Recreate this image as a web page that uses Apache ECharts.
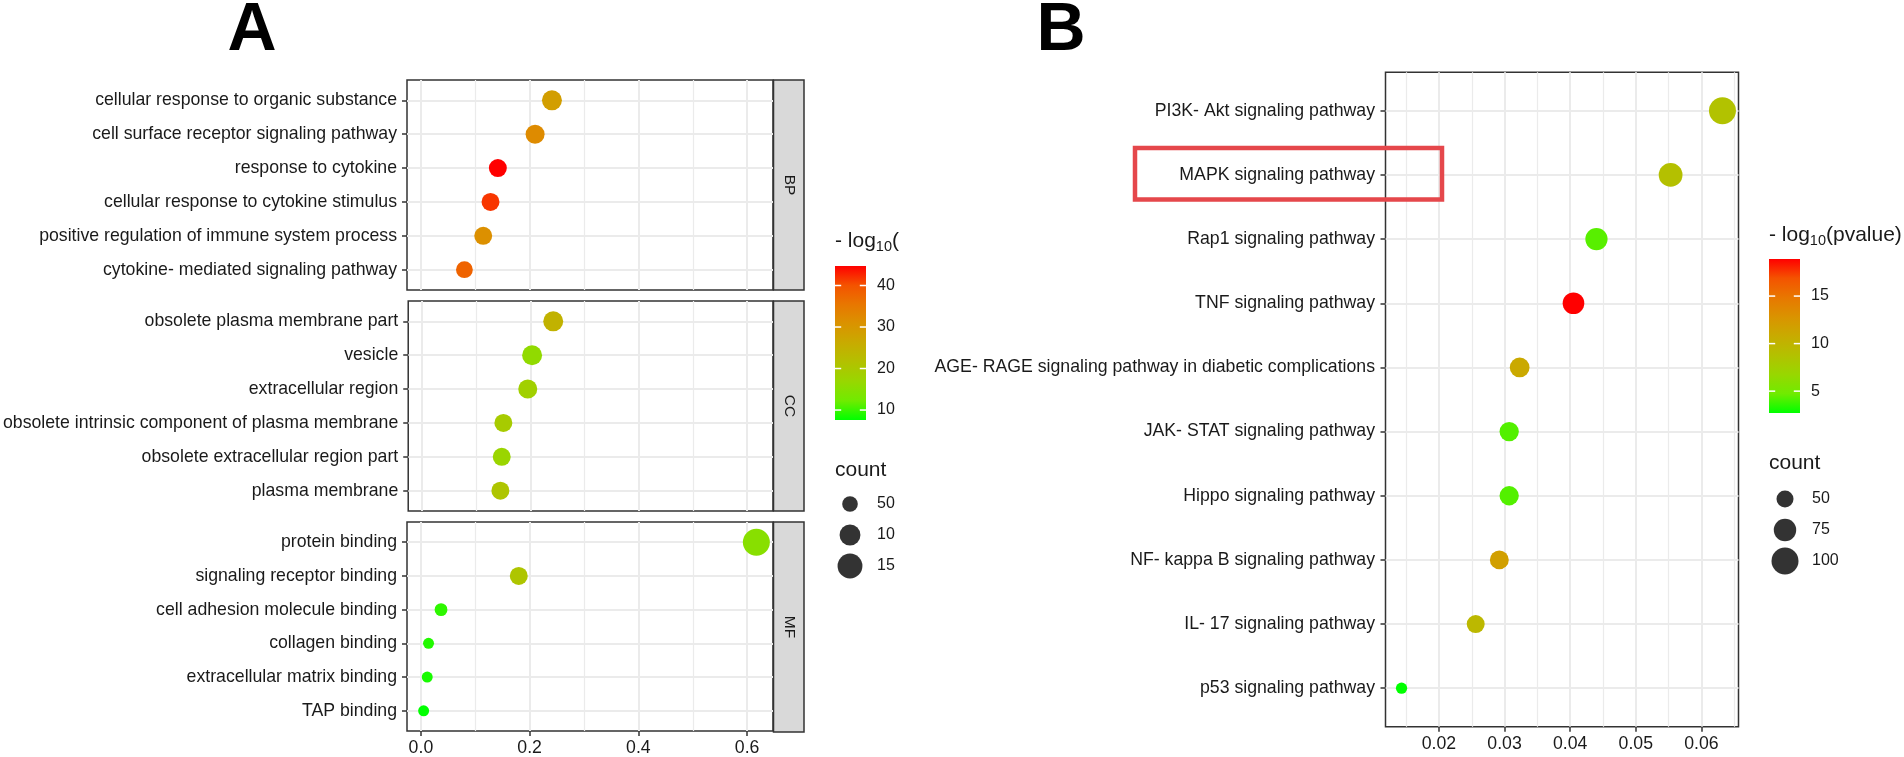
<!DOCTYPE html>
<html>
<head>
<meta charset="utf-8">
<title>GO and KEGG enrichment dot plots</title>
<script src="https://cdn.jsdelivr.net/npm/echarts@6/dist/echarts.min.js"></script>
<style>
    html, body { margin: 0; padding: 0; background: #fff; }
    #chart { width: 1904px; height: 757px; }
</style>
</head>
<body>
<div id="chart"></div>
<script>
// Panel A - GO terms per facet, listed top to bottom
const bpTerms = ['cellular response to organic substance', 'cell surface receptor signaling pathway', 'response to cytokine',
    'cellular response to cytokine stimulus', 'positive regulation of immune system process', 'cytokine- mediated signaling pathway'];
const bpRatio = [0.241, 0.210, 0.1415, 0.128, 0.1146, 0.080];
const bpLogP = [28.7, 32.1, 44.7, 41.7, 31.3, 38.0];
const bpCount = [9, 8, 7, 7, 7, 6];

const ccTerms = ['obsolete plasma membrane part', 'vesicle', 'extracellular region',
    'obsolete intrinsic component of plasma membrane', 'obsolete extracellular region part', 'plasma membrane'];
const ccRatio = [0.242, 0.203, 0.195, 0.150, 0.147, 0.1445];
const ccLogP = [24.7, 16.1, 18.4, 19.5, 17.3, 20.6];
const ccCount = [9, 9, 8, 7, 7, 7];

const mfTerms = ['protein binding', 'signaling receptor binding', 'cell adhesion molecule binding',
    'collagen binding', 'extracellular matrix binding', 'TAP binding'];
const mfRatio = [0.617, 0.180, 0.037, 0.014, 0.0116, 0.005];
const mfLogP = [15.0, 20.6, 9.5, 9.0, 8.6, 7.6];
const mfCount = [18, 7, 3, 2, 2, 2];

const facetNames = ['BP', 'CC', 'MF'];
const xTicksA = [0, 0.2, 0.4, 0.6];
const xMinorA = [0.1, 0.3, 0.5];
const colorBreaksA = [10, 20, 30, 40];
const sizeLabelsA = ['50', '10', '15'];
const sizeCountsA = [5, 10, 15];

// Panel B - KEGG pathways, top to bottom
const keggTerms = ['PI3K- Akt signaling pathway', 'MAPK signaling pathway', 'Rap1 signaling pathway', 'TNF signaling pathway',
    'AGE- RAGE signaling pathway in diabetic complications', 'JAK- STAT signaling pathway', 'Hippo signaling pathway',
    'NF- kappa B signaling pathway', 'IL- 17 signaling pathway', 'p53 signaling pathway'];
const keggRatio = [0.0632, 0.0553, 0.0440, 0.0405, 0.0323, 0.0307, 0.0307, 0.0292, 0.0256, 0.0143];
const keggLogP = [8.7, 8.9, 4.3, 18.9, 11.0, 4.2, 4.2, 11.8, 9.6, 2.7];
const keggCount = [100, 82, 74, 71, 62, 60, 60, 58, 54, 29];

const xTicksB = [0.02, 0.03, 0.04, 0.05, 0.06];
const xMinorB = [0.015, 0.025, 0.035, 0.045, 0.055, 0.065];
const colorBreaksB = [5, 10, 15];
const sizeLabelsB = ['50', '75', '100'];
const sizeCountsB = [50, 75, 100];

// green -> red, interpolated in Lab like ggplot
const RAMP = ['#00FF00', '#70EB00', '#98D700', '#B3C100', '#C8AB00', '#DA9300', '#E87700', '#F45300', '#FF0000'];

const FONT = '"Liberation Sans", Arial, Helvetica, sans-serif';
const FS = 17.7;      // axis text
const FS_LEG = 16;    // legend labels
const FS_TITLE = 21;  // legend titles
const TEXT = '#1a1a1a';
const GRID_LINE = '#EBEBEB';
const BORDER = '#333333';

const sizeA = c => 3 + 5.65 * Math.sqrt(c);
const sizeB = c => -7.1 + 3.41 * Math.sqrt(c);

// ggplot style 5% expansion of a continuous range
function expand(vals, mult) {
    const lo = Math.min(...vals), hi = Math.max(...vals);
    const pad = (hi - lo) * mult;
    return [lo - pad, hi + pad];
}

const grids = [], xAxes = [], yAxes = [], series = [];
const labelStyle = { fontSize: FS, fontFamily: FONT, color: TEXT };
const legendLabelStyle = { fontSize: FS_LEG, fontFamily: FONT, color: TEXT };
const noLine = { show: false, onZero: false };

function addDotPanel(p) {
    const gi = grids.length;
    grids.push({ left: p.left, top: p.top, width: p.width, height: p.height, show: true,
        borderColor: BORDER, borderWidth: 1.5, backgroundColor: 'transparent', containLabel: false });
    const xi = xAxes.length;
    xAxes.push({
        gridIndex: gi, type: 'value', position: 'bottom', min: p.xRange[0], max: p.xRange[1],
        axisLine: noLine,
        axisTick: { show: p.showX, customValues: p.xTicks, length: 5, lineStyle: { color: BORDER, width: 1.5 } },
        axisLabel: Object.assign({ show: p.showX, customValues: p.xTicks, margin: 8,
            formatter: v => v.toFixed(p.digits) }, labelStyle),
        splitLine: { show: true, lineStyle: { color: GRID_LINE, width: 2 } }
    });
    // minor grid lines
    xAxes.push({
        gridIndex: gi, type: 'value', position: 'top', min: p.xRange[0], max: p.xRange[1],
        axisLine: noLine,
        axisTick: { show: false, customValues: p.xMinor },
        axisLabel: { show: false, customValues: p.xMinor },
        splitLine: { show: true, lineStyle: { color: GRID_LINE, width: 1.2 } }
    });
    const yi = yAxes.length;
    const idx = p.names.map((_, i) => i);
    yAxes.push({
        gridIndex: gi, type: 'value', position: 'left', inverse: true, min: -0.6, max: p.names.length - 1 + 0.6,
        axisLine: noLine,
        axisTick: { show: true, customValues: idx, length: 5, lineStyle: { color: BORDER, width: 1.5 } },
        axisLabel: Object.assign({ customValues: idx, margin: p.labelMargin,
            formatter: v => p.names[Math.round(v)] }, labelStyle),
        splitLine: { show: true, lineStyle: { color: GRID_LINE, width: 2 } }
    });
    series.push({
        type: 'scatter', xAxisIndex: xi, yAxisIndex: yi, symbol: 'circle',
        data: p.names.map((_, i) => [p.ratio[i], i, p.logp[i], p.count[i]]),
        symbolSize: v => p.sizeFn(v[3]),
        itemStyle: { opacity: 1 }
    });
    return series.length - 1;
}

function addColorbar(c) {
    const gi = grids.length;
    grids.push({ left: c.left, top: c.top, width: 31, height: 154, show: false, containLabel: false });
    const xi = xAxes.length;
    xAxes.push({ gridIndex: gi, type: 'value', min: 0, max: 1, show: false, axisLine: noLine });
    const yi = yAxes.length;
    yAxes.push({
        gridIndex: gi, type: 'value', position: 'right', min: c.range[0], max: c.range[1],
        axisLine: noLine, axisTick: { show: false, customValues: c.breaks }, splitLine: { show: false },
        axisLabel: Object.assign({ customValues: c.breaks, margin: 11 }, legendLabelStyle)
    });
    const stops = RAMP.map((col, i) => ({ offset: i / (RAMP.length - 1), color: col }));
    series.push({
        type: 'custom', xAxisIndex: xi, yAxisIndex: yi, silent: true,
        data: [[0.5, (c.range[0] + c.range[1]) / 2]],
        renderItem: (params, api) => {
            const cs = params.coordSys;
            const children = [{
                type: 'rect', shape: { x: cs.x, y: cs.y, width: cs.width, height: cs.height },
                style: { fill: new echarts.graphic.LinearGradient(0, 1, 0, 0, stops) }
            }];
            const tl = cs.width / 5;
            c.breaks.forEach(b => {
                const y = api.coord([0, b])[1];
                children.push({ type: 'line', shape: { x1: cs.x, y1: y, x2: cs.x + tl, y2: y }, style: { stroke: '#fff', lineWidth: 1.5 } });
                children.push({ type: 'line', shape: { x1: cs.x + cs.width - tl, y1: y, x2: cs.x + cs.width, y2: y }, style: { stroke: '#fff', lineWidth: 1.5 } });
            });
            return { type: 'group', children: children };
        }
    });
}

function addSizeLegend(s) {
    const gi = grids.length;
    grids.push({ left: s.left, top: s.top, width: 30, height: 93, show: false, containLabel: false });
    const xi = xAxes.length;
    xAxes.push({ gridIndex: gi, type: 'value', min: -1, max: 1, show: false, axisLine: noLine });
    const yi = yAxes.length;
    const idx = s.labels.map((_, i) => i);
    yAxes.push({
        gridIndex: gi, type: 'value', position: 'right', inverse: true, min: -0.5, max: s.labels.length - 0.5,
        axisLine: noLine, axisTick: { show: false, customValues: idx }, splitLine: { show: false },
        axisLabel: Object.assign({ customValues: idx, margin: 12, formatter: v => s.labels[Math.round(v)] }, legendLabelStyle)
    });
    series.push({
        type: 'scatter', xAxisIndex: xi, yAxisIndex: yi, symbol: 'circle', silent: true,
        data: s.counts.map((c, i) => [0, i, c]),
        symbolSize: v => s.sizeFn(v[2]),
        itemStyle: { color: '#000' }
    });
}

// ---- panel A facets
const allRatioA = bpRatio.concat(ccRatio, mfRatio);
const allLogPA = bpLogP.concat(ccLogP, mfLogP);
const xRangeA = expand(allRatioA, 0.05);
const facetTops = [80, 301, 522];
const facetData = [
    [bpTerms, bpRatio, bpLogP, bpCount],
    [ccTerms, ccRatio, ccLogP, ccCount],
    [mfTerms, mfRatio, mfLogP, mfCount]
];
const aSeries = facetData.map((f, k) => addDotPanel({
    left: 407, top: facetTops[k], width: 366, height: 210,
    names: f[0], ratio: f[1], logp: f[2], count: f[3],
    xRange: xRangeA, xTicks: xTicksA, xMinor: xMinorA, digits: 1,
    showX: k === 2, labelMargin: 10, sizeFn: sizeA
}));

// ---- panel B
const bSeries = addDotPanel({
    left: 1385.5, top: 72.3, width: 353, height: 654.4,
    names: keggTerms, ratio: keggRatio, logp: keggLogP, count: keggCount,
    xRange: expand(keggRatio, 0.05), xTicks: xTicksB, xMinor: xMinorB, digits: 2,
    showX: true, labelMargin: 10.5, sizeFn: sizeB
});

const colA = [Math.min(...allLogPA), Math.max(...allLogPA)];
const colB = [Math.min(...keggLogP), Math.max(...keggLogP)];

addColorbar({ left: 835, top: 266, range: colA, breaks: colorBreaksA });
addColorbar({ left: 1769, top: 259, range: colB, breaks: colorBreaksB });
addSizeLegend({ left: 835, top: 488.5, labels: sizeLabelsA, counts: sizeCountsA, sizeFn: sizeA });
addSizeLegend({ left: 1770, top: 483.5, labels: sizeLabelsB, counts: sizeCountsB, sizeFn: sizeB });

// ---- decorations: panel letters, facet strips, legend titles, highlight box
const graphics = [];
function txt(x, y, text, extra) {
    graphics.push(Object.assign({ type: 'text', x: x, y: y, silent: true,
        style: Object.assign({ text: text, fill: TEXT, fontSize: FS, fontFamily: FONT,
            align: 'left', textAlign: 'left', verticalAlign: 'middle', textVerticalAlign: 'middle' }, extra && extra.style) },
        extra && extra.el));
}
txt(252, 31, 'A', { style: { fontSize: 68, fontWeight: 'bold', fill: '#000', align: 'center', textAlign: 'center' } });
txt(1061, 31, 'B', { style: { fontSize: 68, fontWeight: 'bold', fill: '#000', align: 'center', textAlign: 'center' } });

facetNames.forEach((name, k) => {
    graphics.push({ type: 'rect', silent: true, shape: { x: 773.5, y: facetTops[k], width: 30.5, height: 210 },
        style: { fill: '#D9D9D9', stroke: BORDER, lineWidth: 1.5 } });
    txt(789, facetTops[k] + 105, name, { el: { rotation: -Math.PI / 2, z: 10 },
        style: { fontSize: 15.5, align: 'center', textAlign: 'center' } });
});

const richTitle = {
    t: { fontSize: FS_TITLE, fontFamily: FONT, fill: TEXT, color: TEXT, lineHeight: 26 },
    s: { fontSize: 14.5, fontFamily: FONT, fill: TEXT, color: TEXT, lineHeight: 14, verticalAlign: 'bottom' }
};
txt(835, 241, '{t|- log}{s|10}{t|(}', { style: { rich: richTitle } });
txt(1769, 235, '{t|- log}{s|10}{t|(pvalue)}', { style: { rich: richTitle } });
txt(835, 470, 'count', { style: { fontSize: FS_TITLE } });
txt(1769, 463, 'count', { style: { fontSize: FS_TITLE } });

graphics.push({ type: 'rect', silent: true, z: 100, shape: { x: 1135, y: 148, width: 307, height: 51.5 },
    style: { fill: 'none', stroke: '#E5474B', lineWidth: 4.5 } });

const option = {
    animation: false,
    backgroundColor: '#fff',
    grid: grids,
    xAxis: xAxes,
    yAxis: yAxes,
    visualMap: [
        { type: 'continuous', show: false, seriesIndex: aSeries, dimension: 2, min: colA[0], max: colA[1], inRange: { color: RAMP } },
        { type: 'continuous', show: false, seriesIndex: [bSeries], dimension: 2, min: colB[0], max: colB[1], inRange: { color: RAMP } }
    ],
    series: series,
    graphic: graphics
};

const chart = echarts.init(document.getElementById('chart'));
chart.setOption(option);
window.addEventListener('resize', function() { chart.resize(); });
</script>
</body>
</html>
